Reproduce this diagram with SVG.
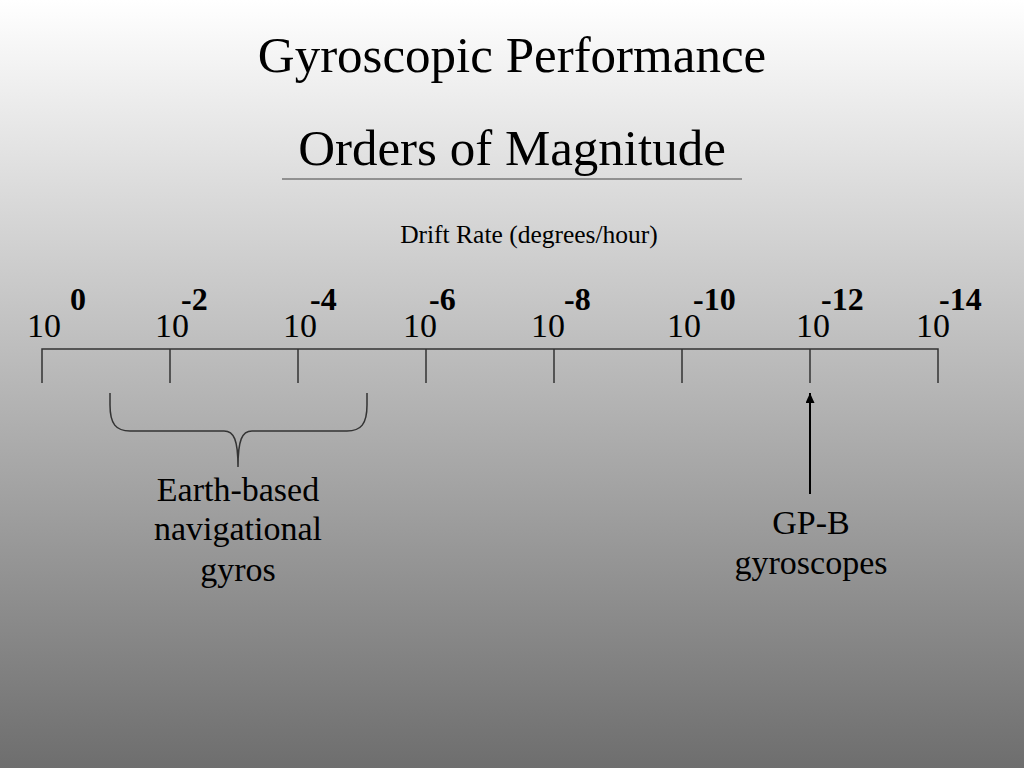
<svg xmlns="http://www.w3.org/2000/svg" width="1024" height="768" viewBox="0 0 1024 768">
<defs>
<linearGradient id="bg" x1="0" y1="0" x2="0" y2="1">
<stop offset="0" stop-color="#ffffff"/>
<stop offset="1" stop-color="#6e6e6e"/>
</linearGradient>
<marker id="arr" markerWidth="10" markerHeight="9" refX="10" refY="4.5" viewBox="0 0 10 9" orient="auto" markerUnits="userSpaceOnUse">
<path d="M0,0 L10,4.5 L0,9 Z" fill="#000"/>
</marker>
<style>
text{font-family:"Liberation Serif","Times New Roman",serif;fill:#000}
.title{font-size:51px;text-anchor:middle}
.base{font-size:34px}
.exp{font-size:32px;font-weight:bold}
.lab{font-size:34px;text-anchor:middle}
.axis{stroke:#333;stroke-width:1.5;fill:none}
</style>
</defs>
<rect width="1024" height="768" fill="url(#bg)"/>
<g id="title">
<text class="title" x="512" y="72">Gyroscopic Performance</text>
<text class="title" x="512" y="165">Orders of Magnitude</text>
<line x1="282" y1="179" x2="742" y2="179" stroke="#444" stroke-width="1.2"/>
<text x="529" y="243" style="font-size:25.5px;text-anchor:middle">Drift Rate (degrees/hour)</text>
</g>
<g id="axis">
<path class="axis" d="M42,383 L42,349 L938,349 L938,383 M170,349 L170,383 M298,349 L298,383 M426,349 L426,383 M554,349 L554,383 M682,349 L682,383 M810,349 L810,383"/>
</g>
<g id="tick-labels">
<text class="base" x="27" y="337">10</text><text class="exp" x="70" y="310">0</text>
<text class="base" x="155" y="337">10</text><text class="exp" x="181" y="310">-2</text>
<text class="base" x="283" y="337">10</text><text class="exp" x="310" y="310">-4</text>
<text class="base" x="403" y="337">10</text><text class="exp" x="429" y="310">-6</text>
<text class="base" x="531" y="337">10</text><text class="exp" x="564" y="310">-8</text>
<text class="base" x="667" y="337">10</text><text class="exp" x="693" y="310">-10</text>
<text class="base" x="796" y="337">10</text><text class="exp" x="821" y="310">-12</text>
<text class="base" x="916" y="337">10</text><text class="exp" x="939" y="310">-14</text>
</g>
<g id="earth-based">
<text class="lab" x="238" y="501">Earth-based</text>
<text class="lab" x="238" y="540">navigational</text>
<text class="lab" x="238" y="581">gyros</text>
</g>
<g id="gpb">
<text class="lab" x="811" y="534">GP-B</text>
<text class="lab" x="811" y="574">gyroscopes</text>
</g>
<g id="connectors">
<path class="axis" d="M110,393 L110,405 C110,424 116,431 130,431 L224,431 C234,431 238,440 238,467 C238,440 242,431 252,431 L347,431 C361,431 367,424 367,405 L367,393"/>
<line x1="810" y1="494" x2="810" y2="393" stroke="#000" stroke-width="2" marker-end="url(#arr)"/>
</g>
</svg>
